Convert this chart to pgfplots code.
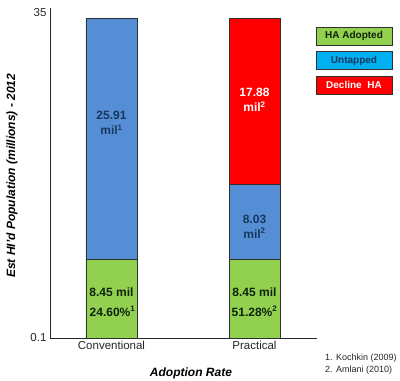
\documentclass[border=0pt]{standalone}
\usepackage{pgfplots}
\pgfplotsset{compat=1.18}
\usepackage{fontspec}
\setmainfont{Liberation Sans}
\definecolor{cgreen}{HTML}{92D050}
\definecolor{cblue}{HTML}{558ED5}
\definecolor{ccyan}{HTML}{00B0F0}
\definecolor{cred}{HTML}{FF0000}
\definecolor{cnavy}{HTML}{17375E}
\definecolor{cdkgreen}{HTML}{0F220A}
\definecolor{cborder}{HTML}{303030}
\begin{document}
\begin{tikzpicture}[x=1pt,y=1pt]
\useasboundingbox (-50,-43) rectangle (350,338);
\begin{axis}[
  at={(0,0)}, anchor=south west,
  scale only axis, width=267pt, height=330pt,
  ybar stacked, bar width=51pt,
  xmin=-0.43, xmax=1.437, ymin=0, ymax=35.5,
  axis lines=left, axis line style={-, thick, black!85},
  xtick={0,1}, xticklabels={Conventional,Practical},
  ytick={0.1,35}, yticklabels={0.1,35},
  major tick length=0pt,
  tick label style={font=\fontsize{11.5}{13}\selectfont, black!85},
  /pgf/number format/assume math mode=true,
  xlabel={Adoption Rate}, ylabel={Est HI'd Population (millions) - 2012},
  label style={font=\fontsize{12}{14}\selectfont\bfseries\itshape},
  xlabel style={at={(axis description cs:0.528,-0.106)}, anchor=center},
  ylabel style={at={(axis description cs:-0.142,0.491)}, anchor=center, rotate=0},
  clip=false,
]
\addplot[fill=cgreen, draw=cborder, line width=0.8pt] coordinates {(0,8.45) (1,8.45)};
\addplot[fill=cblue, draw=cborder, line width=0.8pt] coordinates {(0,25.91) (1,8.03)};
\addplot[fill=cred, draw=cborder, line width=0.8pt] coordinates {(0,0) (1,17.88)};
\coordinate (L1) at (axis cs:0,23.1);
\coordinate (L2) at (axis cs:1,25.6);
\coordinate (L3) at (axis cs:1,12.0);
\coordinate (L4) at (axis cs:0,3.9);
\coordinate (L5) at (axis cs:1,3.9);
\end{axis}
\node[font=\fontsize{12}{14}\selectfont\bfseries, text=cnavy, align=center] at (L1) {25.91\\[1pt]mil\textsuperscript{1}};
\node[font=\fontsize{12}{14}\selectfont\bfseries, text=white, align=center] at (L2) {17.88\\[1pt]mil\textsuperscript{2}};
\node[font=\fontsize{12}{14}\selectfont\bfseries, text=cnavy, align=center] at (L3) {8.03\\[1pt]mil\textsuperscript{2}};
\node[font=\fontsize{12}{14}\selectfont\bfseries, text=cdkgreen, align=center] at (L4) {8.45 mil\\[6pt]\,24.60\%\textsuperscript{1}};
\node[font=\fontsize{12}{14}\selectfont\bfseries, text=cdkgreen, align=center] at (L5) {8.45 mil\\[6pt]51.28\%\textsuperscript{2}};
\tikzset{lgbox/.style={draw=cborder, line width=0.7pt, minimum width=76pt, minimum height=18pt, inner sep=0pt, font=\fontsize{10}{12}\selectfont\bfseries}}
\node[lgbox, fill=cgreen, text=cdkgreen] at (304,302) {HA Adopted};
\node[lgbox, fill=ccyan, text=cnavy] at (304,277.5) {Untapped};
\node[lgbox, fill=cred, text=white] at (304,253) {Decline\ \ HA};
\node[anchor=north west, align=left, font=\fontsize{9}{12}\selectfont, text=black!85, inner sep=0pt] at (275,-16) {1. Kochkin (2009)\\2. Amlani (2010)};
\end{tikzpicture}
\end{document}
